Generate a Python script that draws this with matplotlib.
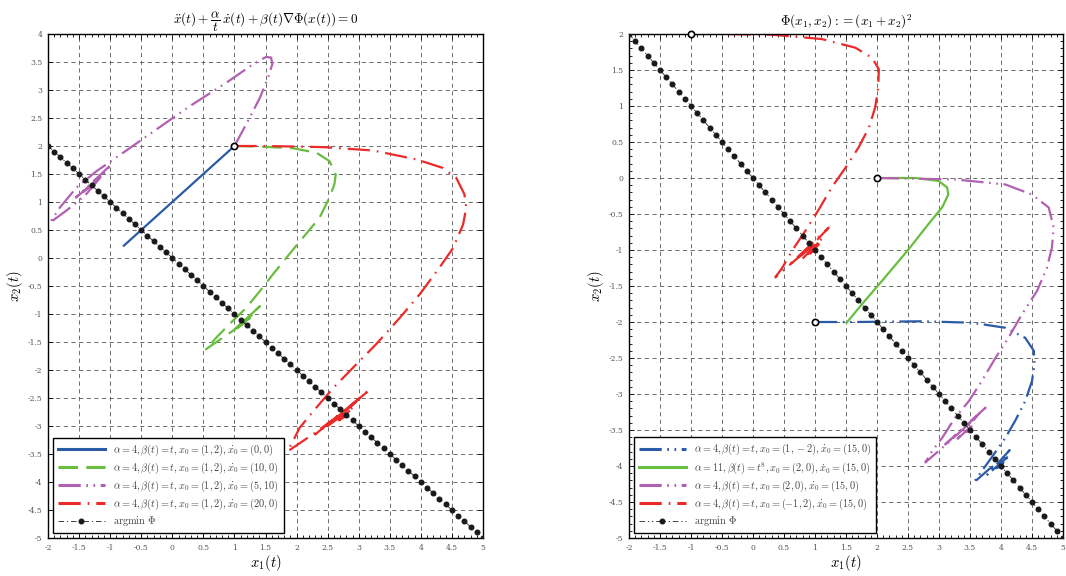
import matplotlib
matplotlib.use("Agg")
import matplotlib.pyplot as plt
from matplotlib.ticker import MultipleLocator

plt.rcParams['mathtext.fontset'] = 'cm'
plt.rcParams['font.family'] = ['DejaVu Serif']
plt.rcParams['lines.scale_dashes'] = False

# ---------------- data: left panel ----------------
L_blue_x = [1.0, -0.78]
L_blue_y = [2.0, 0.22]

L_green_x = [1.0, 1.41, 1.94, 2.32, 2.53, 2.63, 2.61, 2.53, 2.37, 2.10, 1.84, 1.62, 1.41, 1.19, 0.92, 0.71, 0.54,
             0.75, 1.00, 1.41, 0.98, 1.30, 1.05, 1.25, 1.10, 1.20, 1.15]
L_green_y = [2.0, 1.99, 1.96, 1.88, 1.73, 1.49, 1.32, 1.08, 0.72, 0.36, 0.01, -0.29, -0.59, -0.89, -1.18, -1.42, -1.63,
             -1.47, -1.28, -0.86, -1.30, -1.00, -1.25, -1.07, -1.20, -1.12, -1.15]

L_mag_x = [1.0, 1.19, 1.41, 1.54, 1.61, 1.59, 1.51, 1.30, 0.87, 0.28, -0.25, -0.79, -1.22, -1.54, -1.81, -1.97,
           -1.70, -1.40, -0.98, -1.55, -1.12, -1.45, -1.20, -1.38, -1.26, -1.32, -1.30]
L_mag_y = [2.0, 2.39, 2.86, 3.22, 3.46, 3.58, 3.59, 3.46, 3.13, 2.71, 2.30, 1.88, 1.55, 1.26, 0.90, 0.63,
           0.85, 1.12, 1.67, 1.08, 1.48, 1.16, 1.40, 1.23, 1.34, 1.28, 1.30]

L_red_x = [1.0, 1.51, 2.43, 3.23, 3.93, 4.35, 4.57, 4.70, 4.73, 4.68, 4.52, 4.30, 3.98, 3.66, 3.28, 2.96, 2.59,
           2.32, 2.05, 1.86, 2.30, 2.75, 3.18, 2.30, 2.98, 2.50, 2.92, 2.68, 2.85, 2.76, 2.80]
L_red_y = [2.0, 2.0, 1.98, 1.92, 1.76, 1.61, 1.43, 1.14, 0.90, 0.60, 0.18, -0.17, -0.65, -1.07, -1.54, -1.90, -2.32,
           -2.67, -3.03, -3.45, -3.12, -2.75, -2.35, -3.15, -2.55, -3.00, -2.66, -2.90, -2.78, -2.85, -2.82]

L_start_x = [1.0]
L_start_y = [2.0]

L_labels = [r'$\alpha = 4, \beta(t) = t, x_0 = (1,2), \dot{x}_0 = (0,0)$',
            r'$\alpha = 4, \beta(t) = t, x_0 = (1,2), \dot{x}_0 = (10,0)$',
            r'$\alpha = 4, \beta(t) = t, x_0 = (1,2), \dot{x}_0 = (5,10)$',
            r'$\alpha = 4, \beta(t) = t, x_0 = (1,2), \dot{x}_0 = (20,0)$']

# ---------------- data: right panel ----------------
R_blue_x = [1.0, 1.65, 2.73, 3.53, 4.07, 4.39, 4.53, 4.54, 4.50, 4.39, 4.23, 4.07, 3.85, 3.69, 3.56,
            3.80, 4.00, 4.14, 3.78, 4.10, 3.88, 4.04, 3.95, 4.02, 3.99, 4.0]
R_blue_y = [-2.0, -2.0, -1.99, -2.01, -2.08, -2.22, -2.40, -2.59, -2.82, -3.10, -3.37, -3.61, -3.88, -4.07, -4.23,
            -4.05, -3.92, -3.78, -4.12, -3.88, -4.06, -3.95, -4.02, -3.98, -4.01, -4.0]

R_green_x = [2.0, 2.62, 2.99, 3.13, 3.15, 3.05, 2.83, 2.51, 2.08, 1.76, 1.51]
R_green_y = [0.0, 0.0, -0.04, -0.13, -0.23, -0.41, -0.64, -0.99, -1.43, -1.75, -2.01]

R_mag_x = [2.0, 3.26, 4.07, 4.50, 4.77, 4.85, 4.82, 4.74, 4.58, 4.34, 4.12, 3.91, 3.69, 3.48, 3.26, 3.05, 2.89, 2.78,
           3.05, 3.40, 3.75, 3.10, 3.62, 3.30, 3.56, 3.42, 3.52, 3.47, 3.50]
R_mag_y = [0.0, -0.02, -0.09, -0.23, -0.41, -0.69, -0.97, -1.25, -1.57, -1.89, -2.22, -2.50, -2.82, -3.10, -3.33,
           -3.61, -3.79, -3.95, -3.75, -3.48, -3.19, -3.70, -3.30, -3.62, -3.42, -3.55, -3.47, -3.52, -3.50]

R_red_x = [-1.0, -0.5, 0.31, 1.11, 1.65, 1.92, 2.03, 2.02, 1.97, 1.87, 1.70, 1.49, 1.27, 1.06, 0.84, 0.63, 0.47, 0.36,
           0.60, 0.90, 1.22, 0.62, 1.12, 0.80, 1.06, 0.92, 1.02, 0.98, 1.0]
R_red_y = [2.0, 2.0, 1.99, 1.93, 1.81, 1.67, 1.51, 1.25, 0.98, 0.70, 0.42, 0.14, -0.13, -0.44, -0.74, -1.01, -1.25,
           -1.38, -1.20, -0.98, -0.69, -1.18, -0.84, -1.12, -0.92, -1.05, -0.96, -1.01, -1.0]

R_start_x = [1.0, 2.0, -1.0]
R_start_y = [-2.0, 0.0, 2.0]

R_labels = [r'$\alpha = 4, \beta(t) = t, x_0 = (1,-2), \dot{x}_0 = (15,0)$',
            r'$\alpha = 11, \beta(t) = t^8, x_0 = (2,0), \dot{x}_0 = (15,0)$',
            r'$\alpha = 4, \beta(t) = t, x_0 = (2,0), \dot{x}_0 = (15,0)$',
            r'$\alpha = 4, \beta(t) = t, x_0 = (-1,2), \dot{x}_0 = (15,0)$']

# argmin set x1 + x2 = 0, sampled every 0.1
argmin_x1 = [-2.0, -1.9, -1.8, -1.7, -1.6, -1.5, -1.4, -1.3, -1.2, -1.1, -1.0, -0.9, -0.8, -0.7, -0.6, -0.5,
             -0.4, -0.3, -0.2, -0.1, 0.0, 0.1, 0.2, 0.3, 0.4, 0.5, 0.6, 0.7, 0.8, 0.9, 1.0, 1.1, 1.2, 1.3, 1.4,
             1.5, 1.6, 1.7, 1.8, 1.9, 2.0, 2.1, 2.2, 2.3, 2.4, 2.5, 2.6, 2.7, 2.8, 2.9, 3.0, 3.1, 3.2, 3.3, 3.4,
             3.5, 3.6, 3.7, 3.8, 3.9, 4.0, 4.1, 4.2, 4.3, 4.4, 4.5, 4.6, 4.7, 4.8, 4.9, 5.0]
argmin_x2 = [2.0, 1.9, 1.8, 1.7, 1.6, 1.5, 1.4, 1.3, 1.2, 1.1, 1.0, 0.9, 0.8, 0.7, 0.6, 0.5,
             0.4, 0.3, 0.2, 0.1, 0.0, -0.1, -0.2, -0.3, -0.4, -0.5, -0.6, -0.7, -0.8, -0.9, -1.0, -1.1, -1.2, -1.3, -1.4,
             -1.5, -1.6, -1.7, -1.8, -1.9, -2.0, -2.1, -2.2, -2.3, -2.4, -2.5, -2.6, -2.7, -2.8, -2.9, -3.0, -3.1, -3.2, -3.3, -3.4,
             -3.5, -3.6, -3.7, -3.8, -3.9, -4.0, -4.1, -4.2, -4.3, -4.4, -4.5, -4.6, -4.7, -4.8, -4.9, -5.0]
argmin_label = r'$\mathrm{argmin}\ \Phi$'

# ---------------- styles ----------------
C_BLUE = '#2b5aa6'
C_GREEN = '#68bd3f'
C_MAG = '#b260b2'
C_RED = '#ec2a2a'
DASHED = (0, (14, 6))
DASHDOT = (0, (16, 5, 1.2, 5))
DASHDOTDOT = (0, (16, 4, 1.2, 4, 1.2, 4))
LW = 1.6

fig = plt.figure(figsize=(10.66, 5.76), dpi=100)
axL = fig.add_axes([48 / 1066, 38 / 576, 435 / 1066, 504 / 576])
axR = fig.add_axes([629 / 1066, 38 / 576, 434 / 1066, 504 / 576])


def fmt(v, p):
    return '%g' % v


def style_axes(ax, ylim, yminor):
    ax.set_xlim(-2, 5)
    ax.set_ylim(*ylim)
    ax.xaxis.set_major_locator(MultipleLocator(0.5))
    ax.yaxis.set_major_locator(MultipleLocator(0.5))
    ax.xaxis.set_minor_locator(MultipleLocator(0.1))
    if yminor:
        ax.yaxis.set_minor_locator(MultipleLocator(0.1))
    ax.xaxis.set_major_formatter(plt.FuncFormatter(fmt))
    ax.yaxis.set_major_formatter(plt.FuncFormatter(fmt))
    ax.tick_params(which='both', direction='in', top=True, right=True, labelsize=5.5,
                   labelcolor='#555555', width=0.6)
    ax.tick_params(which='major', length=3.5, pad=4)
    ax.tick_params(which='minor', length=2)
    ax.grid(True, which='major', linestyle=(0, (3, 2.5)), color='#555555', linewidth=0.6)
    for s in ax.spines.values():
        s.set_linewidth(1.0)
    ax.set_xlabel(r'$x_1(t)$', fontsize=10.5, labelpad=1)
    ax.set_ylabel(r'$x_2(t)$', fontsize=10.5, labelpad=2)


style_axes(axL, (-5, 4), False)
style_axes(axR, (-5, 2), True)

# left panel
axL.plot(L_blue_x, L_blue_y, color=C_BLUE, lw=LW, linestyle='-', label=L_labels[0])
axL.plot(L_green_x, L_green_y, color=C_GREEN, lw=LW, linestyle=DASHED, label=L_labels[1])
axL.plot(L_mag_x, L_mag_y, color=C_MAG, lw=LW, linestyle=DASHDOTDOT, label=L_labels[2])
axL.plot(L_red_x, L_red_y, color=C_RED, lw=LW, linestyle=DASHDOT, label=L_labels[3])
axL.plot(argmin_x1, argmin_x2, color='#222222', lw=0.6, linestyle=(0, (4, 2, 1, 2)), marker='o',
         markersize=3.3, markerfacecolor='#1a1a1a', markeredgecolor='#1a1a1a', label=argmin_label, zorder=3)
axL.plot(L_start_x, L_start_y, linestyle='none', marker='o', markersize=4.5, markerfacecolor='white',
         markeredgecolor='black', markeredgewidth=1.2, zorder=4)
axL.set_title(r'$\ddot{x}(t) + \dfrac{\alpha}{t}\,\dot{x}(t) + \beta(t)\nabla\Phi(x(t)) = 0$', fontsize=9.5, pad=5)

# right panel
axR.plot(R_blue_x, R_blue_y, color=C_BLUE, lw=LW, linestyle=DASHDOTDOT, label=R_labels[0])
axR.plot(R_green_x, R_green_y, color=C_GREEN, lw=LW, linestyle='-', label=R_labels[1])
axR.plot(R_mag_x, R_mag_y, color=C_MAG, lw=LW, linestyle=DASHDOTDOT, label=R_labels[2])
axR.plot(R_red_x, R_red_y, color=C_RED, lw=LW, linestyle=DASHDOT, label=R_labels[3])
axR.plot(argmin_x1, argmin_x2, color='#222222', lw=0.6, linestyle=(0, (4, 2, 1, 2, 1, 2)), marker='o',
         markersize=3.3, markerfacecolor='#1a1a1a', markeredgecolor='#1a1a1a', label=argmin_label, zorder=3)
axR.plot(R_start_x, R_start_y, linestyle='none', marker='o', markersize=4.5, markerfacecolor='white',
         markeredgecolor='black', markeredgewidth=1.2, zorder=4, clip_on=False)
axR.set_title(r'$\Phi(x_1, x_2) := (x_1 + x_2)^2$', fontsize=9.5, pad=6)

for ax in (axL, axR):
    leg = ax.legend(loc='lower left', fontsize=7.4, frameon=True, fancybox=False, framealpha=1,
                    edgecolor='black', handlelength=4.6, borderpad=0.45, labelspacing=0.25,
                    borderaxespad=0.5, handletextpad=0.8)
    leg.get_frame().set_linewidth(1.0)
    leg.set_zorder(10)
    for h in leg.get_lines()[:4]:
        h.set_linewidth(2.2)
    for t in leg.get_texts():
        t.set_color('#444444')

fig.savefig('out.png', dpi=100)
